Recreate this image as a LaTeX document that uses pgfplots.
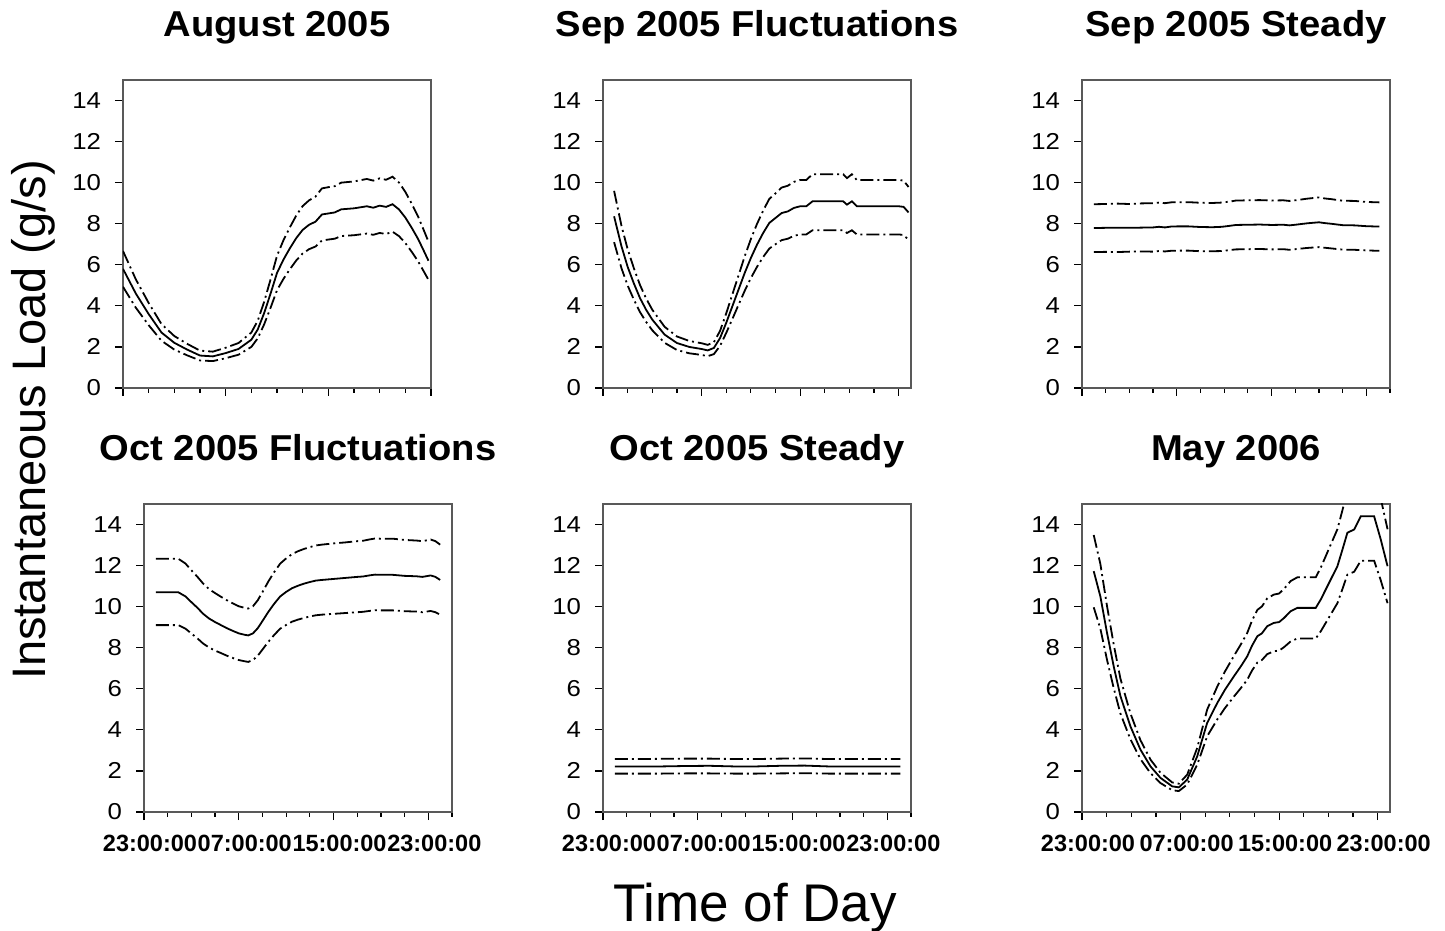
\documentclass[border=0pt]{standalone}
\usepackage{fontspec}
\setmainfont{Liberation Sans}
\newfontfamily\tickfont[FakeStretch=1.12]{Liberation Sans}
\newfontfamily\titlefont[FakeStretch=1.06]{Liberation Sans}
\usepackage{pgfplots}
\pgfplotsset{compat=1.18}
\usepackage{pgfplotstable}

% hourly load profiles: h = hours after 23:00, m = mean, u/l = upper/lower band
\pgfplotstableread{
h m u l
0 5.80 6.67 4.93
1 4.60 5.29 3.91
2 3.60 4.14 3.06
3 2.70 3.11 2.30
4 2.20 2.53 1.87
5 1.87 2.15 1.59
6 1.58 1.82 1.34
7 1.54 1.77 1.31
8 1.70 1.96 1.45
9 1.90 2.19 1.62
10 2.35 2.70 2.00
10.5 2.85 3.28 2.42
11 3.65 4.20 3.10
11.5 4.60 5.29 3.91
12 5.60 6.44 4.76
12.5 6.25 7.19 5.31
13 6.80 7.82 5.78
13.5 7.30 8.40 6.21
14 7.70 8.86 6.55
14.5 7.95 9.14 6.76
15 8.10 9.32 6.89
15.5 8.45 9.72 7.18
16 8.50 9.78 7.23
16.5 8.55 9.83 7.27
17 8.70 10.00 7.40
18 8.75 10.06 7.44
19 8.85 10.18 7.52
19.5 8.78 10.10 7.46
20 8.88 10.21 7.55
20.5 8.82 10.14 7.50
21 8.95 10.29 7.61
21.5 8.70 10.01 7.40
22 8.30 9.55 7.06
22.5 7.80 8.97 6.63
23 7.25 8.34 6.16
23.5 6.60 7.59 5.61
23.8 6.20 7.13 5.27
}\augA

\pgfplotstableread{
h m u l
0.9 8.36 9.60 7.10
1.5 6.90 7.90 5.83
2 5.90 6.76 4.99
2.5 5.10 5.84 4.31
3 4.38 5.02 3.70
3.5 3.81 4.36 3.22
4 3.33 3.81 2.81
5 2.60 2.98 2.20
6 2.19 2.51 1.85
7 2.00 2.29 1.69
8 1.90 2.18 1.61
8.5 1.83 2.10 1.55
9 1.95 2.23 1.65
9.5 2.43 2.78 2.05
10 3.17 3.63 2.68
10.5 3.98 4.56 3.36
11 4.79 5.48 4.05
11.5 5.60 6.41 4.73
12 6.33 7.25 5.35
12.5 6.98 7.99 5.90
13 7.55 8.64 6.38
13.5 8.04 9.21 6.79
14 8.28 9.48 7.00
14.5 8.52 9.76 7.20
15 8.60 9.85 7.27
15.5 8.77 10.04 7.41
16 8.85 10.13 7.48
16.5 8.85 10.13 7.48
17 9.09 10.41 7.68
18 9.09 10.41 7.68
19 9.09 10.41 7.68
19.5 9.09 10.41 7.68
19.8 8.93 10.22 7.55
20.2 9.09 10.41 7.68
20.6 8.85 10.13 7.48
21 8.85 10.13 7.48
22 8.85 10.13 7.48
23 8.85 10.13 7.48
24 8.85 10.13 7.48
24.4 8.82 10.10 7.45
24.8 8.55 9.79 7.22
}\sepFluct

\pgfplotstableread{
h m u l
1 7.79 8.95 6.62
2 7.80 8.96 6.63
3 7.80 8.98 6.62
4 7.80 8.96 6.64
5 7.81 8.99 6.65
6 7.82 9.00 6.64
6.5 7.85 9.03 6.67
7 7.82 9.00 6.65
7.5 7.86 9.04 6.68
8 7.87 9.05 6.69
9 7.87 9.05 6.69
10 7.84 9.02 6.66
11 7.83 9.01 6.66
11.8 7.85 9.03 6.67
12.5 7.90 9.08 6.72
13 7.94 9.13 6.75
14 7.95 9.14 6.76
15 7.96 9.15 6.77
16 7.94 9.13 6.75
17 7.95 9.14 6.76
17.5 7.92 9.11 6.73
18 7.95 9.14 6.76
19 8.02 9.22 6.82
20 8.07 9.28 6.86
20.5 8.03 9.23 6.83
21 8.00 9.20 6.80
22 7.93 9.12 6.74
23 7.92 9.11 6.73
24 7.88 9.06 6.70
25.1 7.86 9.04 6.68
}\sepSteady

\pgfplotstableread{
h m u l
1 10.70 12.33 9.10
2 10.70 12.33 9.10
2.9 10.70 12.33 9.10
3.5 10.50 12.10 8.93
4 10.22 11.77 8.69
4.5 9.95 11.46 8.46
5 9.65 11.12 8.20
5.5 9.42 10.85 8.01
6 9.25 10.66 7.86
6.5 9.10 10.48 7.74
7 8.95 10.31 7.61
7.5 8.82 10.16 7.50
8 8.70 10.02 7.40
8.5 8.63 9.94 7.34
8.8 8.60 9.91 7.31
9.2 8.70 10.02 7.40
9.6 8.95 10.31 7.61
10 9.30 10.71 7.91
10.5 9.75 11.23 8.29
11 10.15 11.69 8.63
11.5 10.50 12.10 8.93
12 10.72 12.35 9.11
12.5 10.90 12.56 9.27
13 11.02 12.70 9.37
13.5 11.12 12.81 9.45
14 11.20 12.90 9.52
14.5 11.27 12.98 9.58
15 11.30 13.02 9.61
16 11.35 13.08 9.65
17 11.40 13.13 9.69
18 11.45 13.19 9.73
18.5 11.47 13.21 9.75
19 11.52 13.27 9.79
19.5 11.56 13.32 9.83
20 11.55 13.31 9.82
21 11.55 13.31 9.82
22 11.50 13.25 9.78
23 11.48 13.22 9.76
23.5 11.45 13.19 9.73
24.2 11.52 13.27 9.79
24.6 11.45 13.19 9.73
25 11.30 13.02 9.61
}\octFluct

\pgfplotstableread{
h m u l
1 2.22 2.58 1.87
3 2.22 2.58 1.87
5 2.22 2.59 1.87
7 2.24 2.60 1.88
9 2.25 2.60 1.88
11 2.22 2.58 1.87
13 2.22 2.58 1.87
15 2.25 2.60 1.88
17 2.26 2.61 1.89
19 2.22 2.58 1.87
21 2.22 2.58 1.87
23 2.22 2.58 1.87
25.1 2.22 2.58 1.87
}\octSteady

\pgfplotstableread{
h m u l
0.95 11.73 13.49 9.97
1.49 10.50 12.08 8.93
2.03 8.72 10.03 7.41
2.57 7.10 8.17 6.04
3.12 5.64 6.49 4.79
3.93 4.17 4.80 3.54
4.74 3.04 3.50 2.58
5.56 2.22 2.55 1.89
6.37 1.66 1.91 1.41
7.32 1.25 1.44 1.06
7.86 1.20 1.38 1.02
8.54 1.58 1.82 1.34
9.35 2.71 3.12 2.30
10.16 4.34 4.99 3.69
10.98 5.31 6.11 4.51
11.6 5.95 6.84 5.06
12.33 6.61 7.60 5.62
12.9 7.10 8.17 6.04
13.41 7.58 8.72 6.44
13.8 8.10 9.32 6.89
14.23 8.56 9.84 7.28
14.6 8.70 10.01 7.40
15.04 9.05 10.41 7.69
15.58 9.21 10.59 7.83
16.0 9.25 10.64 7.86
16.4 9.45 10.87 8.03
16.94 9.78 11.25 8.31
17.48 9.94 11.43 8.45
18.97 9.94 11.43 8.45
19.38 10.35 11.90 8.80
19.92 11.00 12.65 9.35
20.73 11.97 13.77 10.17
21.14 12.78 14.70 10.86
21.54 13.60 15.64 11.56
22.09 13.76 15.82 11.70
22.63 14.40 16.56 12.24
23.71 14.40 16.56 12.24
24.25 13.27 15.26 11.28
24.8 11.97 13.77 10.17
}\mayB

\pgfplotsset{
  panel/.style={
    anchor=south west,
    scale only axis, width=154pt, height=154pt,
    xmin=0, ymin=0, ymax=15,
    ytick={0,2,...,14},
    xtick={0,8,16,24},
    minor xtick={2,4,6,10,12,14,18,20,22,26},
    tick pos=left,
    tick align=outside,
    major tick length=4pt, minor tick length=2.5pt,
    every tick/.style={black, line width=0.6pt},
    axis line style={draw=black!65, line width=0.7pt},
    /pgf/number format/assume math mode=true,
    yticklabel style={font=\tickfont\fontsize{11.5}{13}\selectfont, xshift=-3.5pt},
    xticklabel style={font=\fontsize{11.75}{14}\selectfont\bfseries, xshift=3pt, yshift=-4pt},
    title style={font=\titlefont\fontsize{18}{21}\selectfont\bfseries, at={(0.5,1)}, anchor=base, yshift=15.5pt},
  },
  toprow/.style={xticklabels={}},
  botrow/.style={xticklabels={23:00:00,07:00:00,15:00:00,23:00:00}},
  meanline/.style={black, line width=0.9pt},
  bandline/.style={black, line width=0.9pt, dash pattern=on 6.5pt off 2pt on 1pt off 2pt},
}

\newcommand{\threelines}[1]{%
  \addplot[bandline] table[x=h, y=u] {#1};
  \addplot[meanline] table[x=h, y=m] {#1};
  \addplot[bandline] table[x=h, y=l] {#1};
}

\begin{document}
\begin{tikzpicture}
\useasboundingbox (0,0) rectangle (722.5pt,465.5pt);

\begin{axis}[panel, toprow, at={(61.5pt,271.5pt)}, xmax=24, title={August 2005}]
  \threelines{\augA}
\end{axis}

\begin{axis}[panel, toprow, at={(301.5pt,271.5pt)}, xmax=25, title={Sep 2005 Fluctuations}]
  \threelines{\sepFluct}
\end{axis}

\begin{axis}[panel, toprow, at={(541pt,271.5pt)}, xmax=26, title={Sep 2005 Steady}]
  \threelines{\sepSteady}
\end{axis}

\begin{axis}[panel, botrow, at={(72pt,59.5pt)}, xmax=26, title={Oct 2005 Fluctuations}]
  \threelines{\octFluct}
\end{axis}

\begin{axis}[panel, botrow, at={(301.5pt,59.5pt)}, xmax=26, title={Oct 2005 Steady}]
  \threelines{\octSteady}
\end{axis}

\begin{axis}[panel, botrow, at={(541pt,59.5pt)}, xmax=25, title={May 2006}]
  \threelines{\mayB}
\end{axis}

\node[rotate=90, font=\fontsize{23.5}{28}\selectfont] at (16.5pt,255.5pt) {Instantaneous Load (g/s)};
\node[anchor=base, font=\fontsize{26.5}{30}\selectfont] at (377.5pt,4.5pt) {Time of Day};
\end{tikzpicture}
\end{document}
